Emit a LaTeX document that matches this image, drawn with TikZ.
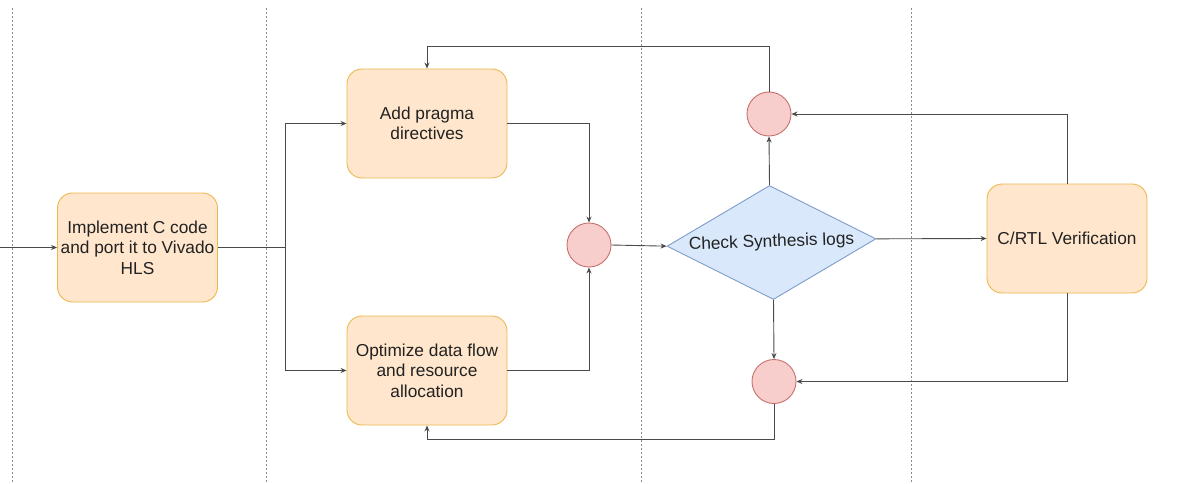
\documentclass[tikz,border=0pt]{standalone}
\usepackage{fontspec}
\setmainfont{Liberation Sans}
\usetikzlibrary{shapes.geometric,arrows.meta}
\definecolor{boxfill}{HTML}{FFE6CC}
\definecolor{boxline}{HTML}{EDB84E}
\definecolor{dotfill}{HTML}{F8CECC}
\definecolor{dotline}{HTML}{C7716C}
\definecolor{decfill}{HTML}{DAE8FC}
\definecolor{decline}{HTML}{7D9CCB}
\definecolor{wire}{HTML}{4A4A4A}
\definecolor{lane}{HTML}{8A8A8A}
\definecolor{ink}{HTML}{222222}
\tikzset{
  stepbox/.style={draw=boxline, fill=boxfill, line width=0.9pt, rounded corners=15pt,
    minimum width=160pt, minimum height=109pt, inner sep=0pt,
    align=center, text=ink, font=\fontsize{17.3}{20.5}\selectfont},
  junction/.style={circle, draw=dotline, fill=dotfill, line width=0.9pt,
    minimum size=44pt, inner sep=0pt},
  decision/.style={diamond, draw=decline, fill=decfill, line width=0.9pt,
    aspect=1.83, minimum width=209pt, minimum height=114pt, inner sep=0pt, text=ink,
    font=\fontsize{17.3}{20.5}\selectfont},
  wireline/.style={draw=wire, line width=0.9pt, -{Stealth[length=6pt,width=5pt]}},
  lanesep/.style={draw=lane, line width=0.8pt, dash pattern=on 2pt off 2pt}
}
\begin{document}
\begin{tikzpicture}[x=1pt,y=-1pt]
  \useasboundingbox (0,0) rectangle (1177,484);
  % swimlane separators
  \foreach \xx in {12,266,641,911} {
    \draw[lanesep] (\xx,8) -- (\xx,484);
  }
  % steps
  \node[stepbox] (impl) at (137.5,247.5) {Implement C code\\and port it to Vivado\\HLS};
  \node[stepbox] (add)  at (427,123.5) {Add pragma\\directives};
  \node[stepbox] (opt)  at (427,370.5) {Optimize data flow\\and resource\\allocation};
  \node[stepbox] (ver)  at (1067,238.5) {C/RTL Verification};
  % junctions
  \node[junction] (merge) at (589,245) {};
  \node[junction] (ctop)  at (769,114) {};
  \node[junction] (cbot)  at (774,381.5) {};
  % decision
  \node[decision, rotate=2] (chk) at (771.5,242.5) {Check Synthesis logs};
  % connectors
  \coordinate (in) at (0,247.5);
  \coordinate (branch) at (285,247.5);
  \draw[wireline] (in) -- (impl.west);
  \draw[draw=wire, line width=0.9pt] (impl.east) -- (branch);
  \draw[wireline] (branch) |- (add.west);
  \draw[wireline] (branch) |- (opt.west);
  \draw[wireline] (add.east) -| (merge.north);
  \draw[wireline] (opt.east) -| (merge.south);
  \draw[wireline] (merge.east) -- (chk.west);
  \draw[wireline] (chk.east) -- (ver.west);
  \draw[wireline] (chk.north) -- (ctop.south);
  \draw[wireline] (chk.south) -- (cbot.north);
  \draw[wireline] (ver.north) |- (ctop.east);
  \draw[wireline] (ver.south) |- (cbot.east);
  \draw[wireline] (ctop.north) |- ([yshift=22pt]add.north) -- (add.north);
  \draw[wireline] (cbot.south) |- ([yshift=-14pt]opt.south) -- (opt.south);
\end{tikzpicture}
\end{document}
